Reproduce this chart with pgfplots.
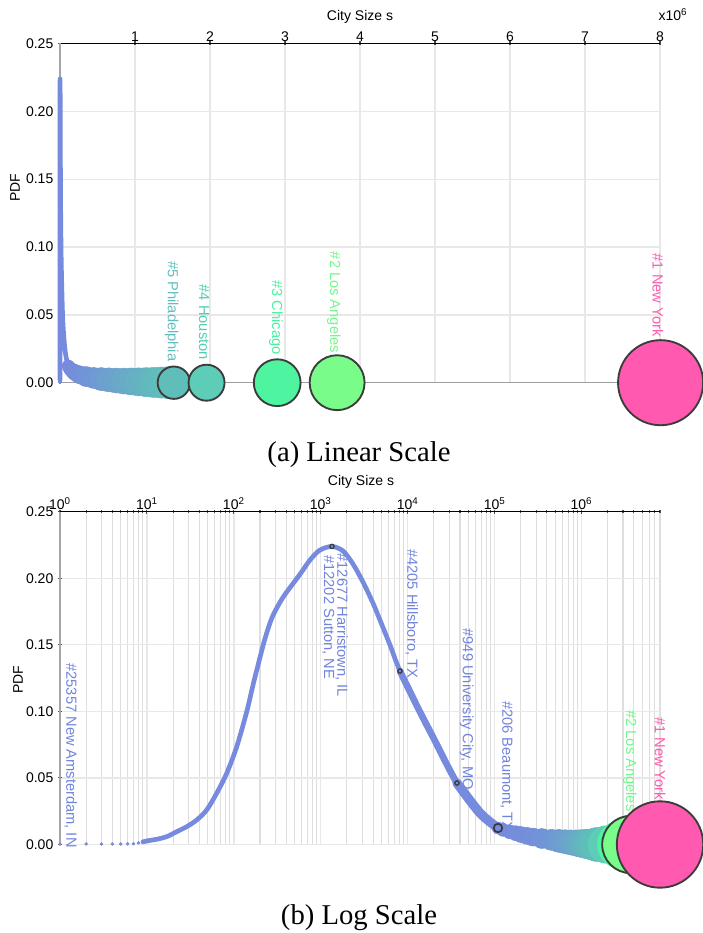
\documentclass[border=0pt]{standalone}
\usepackage{fontspec}
\setmainfont{Liberation Sans}
\newfontfamily\capfont{Liberation Serif}
\usepackage{pgfplots}
\usepackage{pgfplotstable}
\pgfplotsset{compat=1.18}

\definecolor{cblue}{RGB}{118,138,222}
\definecolor{ctext}{RGB}{112,132,222}
\definecolor{cphil}{RGB}{96,190,186}
\definecolor{chou}{RGB}{93,205,184}
\definecolor{cchi}{RGB}{78,244,160}
\definecolor{cla}{RGB}{122,252,138}
\definecolor{cny}{RGB}{255,90,175}
\definecolor{tphil}{RGB}{96,190,190}
\definecolor{thou}{RGB}{80,205,178}
\definecolor{tchi}{RGB}{77,240,160}
\definecolor{tla}{RGB}{118,246,140}
\definecolor{outl}{RGB}{60,60,60}
\definecolor{gridc}{RGB}{232,232,232}
\definecolor{gridm}{RGB}{222,222,222}

\pgfplotsset{colormap={bandmap}{rgb255=(118,138,222) rgb255=(96,190,186)}}

\newcommand{\lbl}{\fontsize{11}{13}\selectfont}
\newcommand{\axf}{\fontsize{10.5}{12}\selectfont}

% PDF of city sizes (s, pdf)
\pgfplotstableread{
s p
9 0.0020
10.4 0.0029
12.9 0.0039
16.9 0.0059
22.0 0.0096
28.7 0.0134
37.4 0.0184
48.7 0.0259
63.5 0.0385
82.8 0.0535
108 0.0735
141 0.1000
168 0.1210
218 0.1500
249 0.1625
284 0.1725
371 0.1860
577 0.2030
752 0.2137
980 0.2212
1346 0.2239
1802 0.2205
2348 0.2107
3060 0.1972
3987 0.1814
4800 0.1686
6257 0.1499
8150 0.1303
13130 0.1026
19530 0.0808
36900 0.0462
67800 0.0237
109400 0.0124
150000 0.0095
}\curve

\pgfplotstableread{
s p
8150 0.1303
13130 0.1026
19530 0.0808
36900 0.0462
67800 0.0237
109400 0.0124
}\curvemid

\pgfplotstableread{
s p
36900 0.0462
67800 0.0237
109400 0.0124
}\curvetail

% smallest towns
\pgfplotstableread{
s p
1 0.0003
2 0.0004
3 0.0004
4 0.0004
5 0.0004
6 0.0005
7 0.0006
8 0.0012
}\towns

% large cities: size, pdf, radius (px), colour index
\pgfplotstableread{
s p r c
109400 0.0124 6 0.00
125000 0.0110 6.5 0.01
150000 0.0095 7 0.03
175000 0.0085 7.5 0.05
200000 0.0075 8 0.07
235000 0.0065 8.5 0.10
276000 0.0056 9 0.12
350000 0.0045 10 0.18
450000 0.0035 10.5 0.25
550000 0.0027 11.5 0.33
650000 0.0021 12 0.40
750000 0.0016 12.5 0.48
850000 0.0012 13 0.55
950000 0.0009 13.5 0.63
1050000 0.0006 14 0.70
1150000 0.0004 14.5 0.78
1250000 0.0002 15 0.85
1350000 0.0001 15.5 0.93
1450000 0.0000 16 1.00
}\band

\pgfplotsset{
  citybase/.style={
    scale only axis, clip=false,
    font=\axf,
    ymin=0, ymax=0.25,
    axis x line=top, axis y line=left,
    axis line style={-},
    x axis line style={black, line width=1pt},
    y axis line style={gray!70, line width=1.6pt},
    ytick={0,0.05,0.1,0.15,0.2,0.25},
    /pgf/number format/assume math mode=true,
    yticklabel style={/pgf/number format/.cd, fixed, fixed zerofill, precision=2},
    xticklabel style={yshift=-3.5pt},
    major grid style={gridc, line width=1pt},
    minor grid style={gridm, line width=0.8pt},
    tick style={black!70, line width=0.8pt},
    major tick length=3pt, minor tick length=2pt,
  },
  bandplot/.style={
    scatter, only marks, mark=*,
    colormap name=bandmap, point meta min=0, point meta max=1,
    scatter src=explicit,
    scatter/use mapped color={draw=mapped color, fill=mapped color},
    visualization depends on={0.75*\thisrow{r} \as \rad},
    scatter/@pre marker code/.append style={/tikz/mark size=\rad pt},
  },
  curveline/.style={cblue, smooth, line cap=round, line join=round},
}

\begin{document}
\begin{tikzpicture}
\useasboundingbox (0,0) rectangle (527.25pt,699.75pt);

% ---------- linear scale ----------
\begin{axis}[citybase,
  at={(45pt,412.725pt)}, anchor=south west,
  width=450pt, height=254.4pt,
  xmin=0, xmax=8000000,
  scaled x ticks=false,
  xtick={1000000,2000000,3000000,4000000,5000000,6000000,7000000,8000000},
  xticklabels={1,2,3,4,5,6,7,8},
  grid=major,
]
\draw[gray!75, line width=1.2pt] (axis cs:0,0) -- (axis cs:8000000,0);
\node[rotate=-90, anchor=east, inner sep=0pt, text=tphil, font=\lbl] at (axis cs:1490000,0.0155) {\#5 Philadelphia};
\node[rotate=-90, anchor=east, inner sep=0pt, text=thou, font=\lbl] at (axis cs:1920000,0.0167) {\#4 Houston};
\node[rotate=-90, anchor=east, inner sep=0pt, text=tchi, font=\lbl] at (axis cs:2880000,0.0204) {\#3 Chicago};
\node[rotate=-90, anchor=east, inner sep=0pt, text=tla, font=\lbl] at (axis cs:3653000,0.0217) {\#2 Los Angeles};
\node[rotate=-90, anchor=east, inner sep=0pt, text=cny, font=\lbl] at (axis cs:7970000,0.0339) {\#1 New York};
\addplot[only marks, mark=*, mark size=1.1pt, color=cblue] table[x=s,y=p] {\towns};
\addplot[curveline, line width=3.5pt] table[x=s,y=p] {\curve};
\addplot[bandplot] table[x=s,y=p,meta=c] {\band};
\addplot[only marks, mark=*, mark size=12.15pt, mark options={fill=cphil, draw=outl, line width=1.4pt}] coordinates {(1518000,0)};
\addplot[only marks, mark=*, mark size=13.5pt, mark options={fill=chou, draw=outl, line width=1.4pt}] coordinates {(1954000,0)};
\addplot[only marks, mark=*, mark size=17.55pt, mark options={fill=cchi, draw=outl, line width=1.4pt}] coordinates {(2896000,0)};
\addplot[only marks, mark=*, mark size=20.6pt, mark options={fill=cla, draw=outl, line width=1.4pt}] coordinates {(3695000,0)};
\addplot[only marks, mark=*, mark size=31.9pt, mark options={fill=cny, draw=outl, line width=1.4pt}] coordinates {(8008000,0)};
\end{axis}

% ---------- log scale ----------
\begin{axis}[citybase,
  at={(45pt,66.375pt)}, anchor=south west,
  width=450pt, height=249.6pt,
  xmode=log, log basis x=10,
  xmin=1, xmax=8000000,
  xtick={1,10,100,1000,10000,100000,1000000},
  xticklabels={10\textsuperscript{0},10\textsuperscript{1},10\textsuperscript{2},10\textsuperscript{3},10\textsuperscript{4},10\textsuperscript{5},10\textsuperscript{6}},
  minor xtick={2,3,4,5,6,7,8,9,20,30,40,50,60,70,80,90,200,300,400,500,600,700,800,900,2000,3000,4000,5000,6000,7000,8000,9000,20000,30000,40000,50000,60000,70000,80000,90000,200000,300000,400000,500000,600000,700000,800000,900000,2000000,3000000,4000000,5000000,6000000,7000000,8000000},
  grid=both,
]
\node[rotate=-90, anchor=east, inner sep=0pt, text=ctext, font=\lbl] at (axis cs:1.33,-0.0026) {\#25357 New Amsterdam, IN};
\node[rotate=-90, anchor=west, inner sep=0pt, text=ctext, font=\lbl] at (axis cs:1741,0.2187) {\#12677 Harristown, IL};
\node[rotate=-90, anchor=west, inner sep=0pt, text=ctext, font=\lbl] at (axis cs:1220,0.2175) {\#12202 Sutton, NE};
\node[rotate=-90, anchor=east, inner sep=0pt, text=ctext, font=\lbl] at (axis cs:11120,0.1248) {\#4205 Hillsboro, TX};
\node[rotate=-90, anchor=east, inner sep=0pt, text=ctext, font=\lbl] at (axis cs:47700,0.0409) {\#949 University City, MO};
\node[rotate=-90, anchor=east, inner sep=0pt, text=ctext, font=\lbl] at (axis cs:137600,0.0094) {\#206 Beaumont, TX};
\node[rotate=-90, anchor=east, inner sep=0pt, text=tla, font=\lbl] at (axis cs:3600000,0.0246) {\#2 Los Angeles};
\node[rotate=-90, anchor=east, inner sep=0pt, text=cny, font=\lbl] at (axis cs:8000000,0.0334) {\#1 New York};
\addplot[only marks, mark=*, mark size=1.1pt, color=cblue] table[x=s,y=p] {\towns};
\addplot[curveline, line width=3.5pt] table[x=s,y=p] {\curve};
\addplot[curveline, line width=5pt] table[x=s,y=p] {\curvemid};
\addplot[curveline, line width=7pt] table[x=s,y=p] {\curvetail};
\addplot[bandplot] table[x=s,y=p,meta=c] {\band};
\addplot[only marks, mark=*, mark size=12.75pt, color=cphil] coordinates {(1518000,0)};
\addplot[only marks, mark=*, mark size=14.1pt, color=chou] coordinates {(1954000,0)};
\addplot[only marks, mark=*, mark size=18.15pt, color=cchi] coordinates {(2896000,0)};
\addplot[only marks, mark=*, mark size=1.6pt, mark options={fill=cblue, draw=outl, line width=1pt}] coordinates {(1346,0.2239) (8150,0.1303) (36900,0.0462)};
\addplot[only marks, mark=*, mark size=3.2pt, mark options={fill=cblue, draw=outl, line width=1.3pt}] coordinates {(109400,0.0124)};
\addplot[only marks, mark=*, mark size=21.5pt, mark options={fill=cla, draw=outl, line width=1.4pt}] coordinates {(3695000,0)};
\addplot[only marks, mark=*, mark size=32.4pt, mark options={fill=cny, draw=outl, line width=1.4pt}] coordinates {(8008000,0)};
\end{axis}

% ---------- titles, axis names, captions ----------
\begin{scope}[shift={(0pt,699.75pt)}, x=0.75pt, y=-0.75pt]
\node[font=\axf] at (360,16.7) {City Size s};
\node[font=\axf] at (361,481.7) {City Size s};
\node[font=\axf] at (673,15) {x10\textsuperscript{6}};
\node[font=\axf, rotate=90] at (15,188) {PDF};
\node[font=\axf, rotate=90] at (18,680) {PDF};
\node[font=\capfont\fontsize{21.5}{24}\selectfont, anchor=base] at (359,462) {(a) Linear Scale};
\node[font=\capfont\fontsize{21.5}{24}\selectfont, anchor=base] at (359,925) {(b) Log Scale};
\end{scope}
\end{tikzpicture}
\end{document}
